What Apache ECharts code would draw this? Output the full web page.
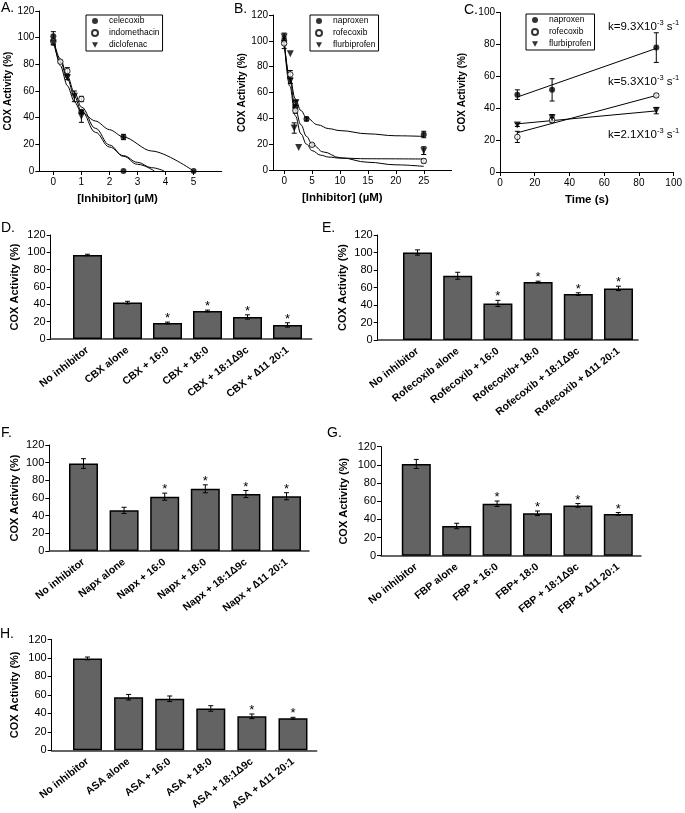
<!DOCTYPE html>
<html><head><meta charset="utf-8">
<script src="https://cdn.jsdelivr.net/npm/echarts@6/dist/echarts.min.js"></script>
<style>html,body{margin:0;padding:0;background:#fff}#c{width:685px;height:813px}</style>
</head><body><div id="c"></div>
<script>
// ---------------- Panel A ----------------
const aCelecoxibX = [0, 1, 2.5, 2.5, 5];
const aCelecoxibY = [101, 44.5, 25.5, 0, 0];
const aCelecoxibE = [3.5, 1, 2, 0, 0];
const aIndoX = [0, 0.25, 0.5, 1];
const aIndoY = [97, 82, 75, 54];
const aIndoE = [2, 1, 2.5, 2];
const aDicloX = [0, 0.5, 0.75, 1];
const aDicloY = [96, 70, 56, 41];
const aDicloE = [1.5, 1.5, 4, 4.5];
const aFit1X = [0, 0.25, 0.5, 0.75, 1, 1.5, 2, 2.5, 3.5, 5];
const aFit1Y = [100, 79, 64, 52, 44, 37.5, 31, 25.5, 15, 0];
const aFit2X = [0, 0.25, 0.5, 0.75, 1, 1.5, 2, 2.5, 3, 3.6];
const aFit2Y = [100, 84, 71, 59, 48, 32, 19.5, 11, 5, 0];
const aFit3X = [0, 0.25, 0.5, 0.75, 1, 1.5, 2, 2.5, 3, 3.5, 3.95];
const aFit3Y = [98, 82, 69, 56, 45, 29, 18, 11.5, 6.5, 2.5, 0];
const aTicks = [0, 1, 2, 3, 4, 5];

// ---------------- Panel B ----------------
const bNapX = [0, 2, 4, 25];
const bNapY = [100, 48.5, 39.5, 27.5];
const bNapE = [3, 2, 1.5, 2.5];
const bRofX = [0, 1.1, 2, 5, 25];
const bRofY = [98, 74, 46, 19.5, 7];
const bRofE = [4, 3, 2, 1, 1.5];
const bFlbX = [0, 1.1, 1.1, 2.1, 1.8, 2.6, 25];
const bFlbY = [103, 90, 69, 52, 32.5, 17.5, 15];
const bFlbE = [3, 0, 2, 2, 4, 0, 3];
const bFit1X = [0, 1, 2, 3, 4, 6, 8, 10, 15, 20, 25];
const bFit1Y = [100, 72, 55, 46, 40.5, 35, 32, 30.5, 28, 26.5, 26];
const bFit2X = [0, 1, 2, 3, 4, 5, 6.5, 8, 10, 15, 25];
const bFit2Y = [100, 65, 42, 28, 20, 15, 11.5, 10, 9.2, 8.7, 8.5];
const bFit3X = [0, 1, 2, 3, 4, 5, 7, 10, 15, 20, 25];
const bFit3Y = [100, 70, 47, 35, 26, 20, 14, 9.5, 6, 4, 2.8];
const bTicks = [0, 5, 10, 15, 20, 25];

// ---------------- Panel C ----------------
const cTime = [10, 30, 90];
const cNapY = [48.5, 51.5, 78];
const cNapE = [3, 7, 9.3];
const cRofY = [22, 32.5, 48];
const cRofE = [3.5, 1.5, 1];
const cFlbY = [29.5, 34, 38.5];
const cFlbE = [1, 2, 2];
const cFitX = [10, 90];
const cFitNapY = [47, 77.5];
const cFitRofY = [24.6, 48];
const cFitFlbY = [30.2, 38.3];
const cRates = ['9.3', '5.3', '2.1'];

// ---------------- Bar panels ----------------
const dCats = ['No inhibitor', 'CBX alone', 'CBX + 16:0', 'CBX + 18:0', 'CBX + 18:1\u03949c', 'CBX + \u220611 20:1'];
const dVals = [97, 42, 18.5, 32.3, 25.4, 16.2];
const dErr = [0.8, 1.5, 1, 1, 2.5, 2.5];
const dStar = [0, 0, 1, 1, 1, 1];

const eCats = ['No inhibitor', 'Rofecoxib alone', 'Rofecoxib + 16:0', 'Rofecoxib+ 18:0', 'Rofecoxib + 18:1\u03949c', 'Rofecoxib + \u220611 20:1'];
const eVals = [100, 73.4, 41.8, 66.2, 52.5, 59];
const eErr = [3, 4, 3.5, 1, 1.5, 2.5];
const eStar = [0, 0, 1, 1, 1, 1];

const fCats = ['No inhibitor', 'Napx alone', 'Napx + 16:0', 'Napx + 18:0', 'Napx + 18:1\u03949c', 'Napx + \u220611 20:1'];
const fVals = [99, 46, 61.5, 70.4, 64.5, 62];
const fErr = [5.5, 3.5, 4, 4.5, 4, 4];
const fStar = [0, 0, 1, 1, 1, 1];

const gCats = ['No inhibitor', 'FBP alone', 'FBP + 16:0', 'FBP+ 18:0', 'FBP + 18:1\u03949c', 'FBP + \u220611 20:1'];
const gVals = [101, 32.7, 57.2, 46.7, 55.4, 46];
const gErr = [5, 3, 3, 2.5, 2, 1.5];
const gStar = [0, 0, 1, 1, 1, 1];

const hCats = ['No inhibitor', 'ASA alone', 'ASA + 16:0', 'ASA + 18:0', 'ASA + 18:1\u03949c', 'ASA + \u220611 20:1'];
const hVals = [99.5, 57.5, 55.8, 45.3, 36.8, 34.7];
const hErr = [1.5, 3, 3, 3, 2.5, 1];
const hStar = [0, 0, 0, 0, 1, 1];

// ---------------- Build ----------------
const SANS = "'Liberation Sans', Arial, Helvetica, sans-serif";
const TRI = 'path://M0,0L10,0L5,9Z';
const OPEN = 'openCircle';

const pts = (xs, ys) => xs.map((x, i) => [x, ys[i]]);
const errPts = (xs, ys, es, st) => xs.map((x, i) => [x, ys[i], es[i], st ? st[i] : 0]);
const idx = (arr) => arr.map((_, i) => i);

function errRender(cap) {
  return function (params, api) {
    const x = api.value(0), y = api.value(1), e = api.value(2), s = api.value(3);
    const top = api.coord([x, y + e]);
    const bot = api.coord([x, y - e]);
    const st = { stroke: '#000', lineWidth: 1 };
    const ch = [];
    if (e > 0) {
      ch.push({ type: 'line', shape: { x1: top[0], y1: top[1], x2: bot[0], y2: bot[1] }, style: st });
      ch.push({ type: 'line', shape: { x1: top[0] - cap, y1: top[1], x2: top[0] + cap, y2: top[1] }, style: st });
      ch.push({ type: 'line', shape: { x1: bot[0] - cap, y1: bot[1], x2: bot[0] + cap, y2: bot[1] }, style: st });
    }
    if (s) {
      ch.push({ type: 'text', style: { text: '*', x: top[0], y: top[1] + 3, align: 'center', verticalAlign: 'bottom', font: '13px ' + SANS, fill: '#000' } });
    }
    return { type: 'group', children: ch };
  };
}

const grid = [
  { left: 39.3, top: 11, width: 182.4, height: 160 },      // A
  { left: 273, top: 15, width: 178.7, height: 155 },       // B
  { left: 500, top: 12.5, width: 176, height: 159.5 },     // C
  { left: 50.7, top: 235, width: 261, height: 104 },       // D
  { left: 377.7, top: 235, width: 260.3, height: 105 },    // E
  { left: 49.3, top: 445, width: 259.7, height: 106 },     // F
  { left: 381, top: 446.7, width: 260, height: 109 },      // G
  { left: 51.7, top: 639.5, width: 265, height: 114.2 }    // H
];

const xAxis = [];
const yAxis = [];
const series = [];

function scatterAxes(gi, xmin, xmax, ticks, xName, namePadR, nameGapY, yMax, yInt) {
  xAxis.push({
    gridIndex: gi, type: 'value', min: xmin, max: xmax,
    axisLine: { show: true, onZero: false, lineStyle: { color: '#000', width: 1 } },
    axisTick: { show: true, customValues: ticks, length: 4, lineStyle: { color: '#000' } },
    axisLabel: { customValues: ticks, fontFamily: SANS, fontSize: 10, color: '#000', margin: 6 },
    splitLine: { show: false },
    name: xName, nameLocation: 'middle', nameGap: 22,
    nameTextStyle: { fontFamily: SANS, fontWeight: 'bold', fontSize: 11.5, color: '#000', padding: [0, namePadR, 0, 0] }
  });
  yAxis.push({
    gridIndex: gi, type: 'value', min: 0, max: yMax, interval: yInt,
    axisLine: { show: true, onZero: false, lineStyle: { color: '#000', width: 1 } },
    axisTick: { show: true, length: 4, lineStyle: { color: '#000' } },
    axisLabel: { fontFamily: SANS, fontSize: 10, color: '#000', margin: 5 },
    splitLine: { show: false },
    name: 'COX Activity (%)', nameLocation: 'middle', nameGap: nameGapY,
    nameTextStyle: { fontFamily: SANS, fontWeight: 'bold', fontSize: 10, color: '#000' }
  });
}

function scatterSeries(gi, name, symbol, xs, ys, es) {
  const open = symbol === OPEN;
  series.push({
    name: name, type: 'scatter', xAxisIndex: gi, yAxisIndex: gi,
    symbol: open ? 'circle' : symbol, symbolSize: symbol === TRI ? 7 : (open ? 5.5 : 6),
    itemStyle: open ? { color: '#fff', borderColor: '#000', borderWidth: 1 } : { color: '#000', borderWidth: 0 },
    data: pts(xs, ys), z: 5, silent: true
  });
  series.push({
    type: 'custom', xAxisIndex: gi, yAxisIndex: gi, renderItem: errRender(2.5),
    encode: { x: 0, y: 1 }, data: errPts(xs, ys, es), z: 4, silent: true, clip: false
  });
}

function fitSeries(gi, xs, ys, smooth) {
  series.push({
    type: 'line', xAxisIndex: gi, yAxisIndex: gi, data: pts(xs, ys),
    showSymbol: false, smooth: smooth, smoothMonotone: 'x',
    lineStyle: { color: '#000', width: 1 }, z: 3, silent: true
  });
}

// A
scatterAxes(0, -0.5, 6, aTicks, '[Inhibitor] (\u00b5M)', 26, 21, 120, 20);
fitSeries(0, aFit1X, aFit1Y, 0.3);
fitSeries(0, aFit2X, aFit2Y, 0.4);
fitSeries(0, aFit3X, aFit3Y, 0.4);
scatterSeries(0, 'celecoxib', 'circle', aCelecoxibX, aCelecoxibY, aCelecoxibE);
scatterSeries(0, 'indomethacin', OPEN, aIndoX, aIndoY, aIndoE);
scatterSeries(0, 'diclofenac', TRI, aDicloX, aDicloY, aDicloE);

// B
scatterAxes(1, -2, 30, bTicks, '[Inhibitor] (\u00b5M)', 40, 19, 120, 20);
fitSeries(1, bFit1X, bFit1Y, 0.4);
fitSeries(1, bFit2X, bFit2Y, 0.4);
fitSeries(1, bFit3X, bFit3Y, 0.4);
scatterSeries(1, 'naproxen', 'circle', bNapX, bNapY, bNapE);
scatterSeries(1, 'rofecoxib', OPEN, bRofX, bRofY, bRofE);
scatterSeries(1, 'flurbiprofen', TRI, bFlbX, bFlbY, bFlbE);

// C
scatterAxes(2, 0, 100, [0, 20, 40, 60, 80, 100], 'Time (s)', 0, 33, 100, 20);
fitSeries(2, cFitX, cFitNapY, false);
fitSeries(2, cFitX, cFitRofY, false);
fitSeries(2, cFitX, cFitFlbY, false);
scatterSeries(2, 'naproxen', 'circle', cTime, cNapY, cNapE);
scatterSeries(2, 'rofecoxib', OPEN, cTime, cRofY, cRofE);
scatterSeries(2, 'flurbiprofen', TRI, cTime, cFlbY, cFlbE);

// Bar panels
function barPanel(gi, cats, vals, errs, stars, xmin, xmax, nameGap) {
  xAxis.push({
    gridIndex: gi, type: 'value', min: xmin, max: xmax,
    axisLine: { show: true, onZero: false, lineStyle: { color: '#333', width: 1.5 } },
    axisTick: { show: false },
    splitLine: { show: false },
    axisLabel: {
      customValues: idx(cats), formatter: (v) => cats[Math.round(v)] || '',
      rotate: 38, fontFamily: SANS, fontWeight: 'bold', fontSize: 10.5, color: '#000', margin: 10
    }
  });
  yAxis.push({
    gridIndex: gi, type: 'value', min: 0, max: 120, interval: 20,
    axisLine: { show: true, onZero: false, lineStyle: { color: '#000', width: 1 } },
    axisTick: { show: true, length: 4, lineStyle: { color: '#000' } },
    axisLabel: { fontFamily: SANS, fontSize: 11, color: '#000', margin: 5 },
    splitLine: { show: false },
    name: 'COX Activity (%)', nameLocation: 'middle', nameGap: nameGap,
    nameTextStyle: { fontFamily: SANS, fontWeight: 'bold', fontSize: 11, color: '#000' }
  });
  const xs = idx(cats);
  series.push({
    type: 'bar', xAxisIndex: gi, yAxisIndex: gi, data: pts(xs, vals), barWidth: 29,
    itemStyle: { color: '#636363', borderColor: '#000', borderWidth: 1.5 }, z: 2, silent: true
  });
  series.push({
    type: 'custom', xAxisIndex: gi, yAxisIndex: gi, renderItem: errRender(2.5),
    encode: { x: 0, y: 1 }, data: errPts(xs, vals, errs, stars), z: 6, silent: true, clip: false
  });
}

barPanel(3, dCats, dVals, dErr, dStar, -0.92, 5.605, 30);
barPanel(4, eCats, eVals, eErr, eStar, -0.99, 5.485, 29);
barPanel(5, fCats, fVals, fErr, fStar, -0.842, 5.554, 29);
barPanel(6, gCats, gVals, gErr, gStar, -0.874, 5.562, 32);
barPanel(7, hCats, hVals, hErr, hStar, -0.871, 5.577, 31);

function legendAt(left, top, names) {
  return {
    left: left, top: top, orient: 'vertical', data: names, selectedMode: false,
    itemWidth: 6, itemHeight: 6, itemGap: 2, padding: [1, 3, 1, 5],
    borderColor: '#000', borderWidth: 1, backgroundColor: '#fff',
    textStyle: { fontFamily: SANS, fontSize: 8.5, color: '#000', padding: [0, 0, 0, 6], lineHeight: 10 }
  };
}

const letter = (t, l, tp) => ({ type: 'text', left: l, top: tp, style: { text: t, font: '14px ' + SANS, fill: '#000' } });
const kText = (r, tp) => ({
  type: 'text', left: 608, top: tp,
  style: {
    text: '{a|k=' + r + 'X10}{s|-3}{a| s}{s|-1}',
    rich: {
      a: { fontFamily: SANS, fontSize: 11.5, fill: '#000', lineHeight: 14, verticalAlign: 'bottom' },
      s: { fontFamily: SANS, fontSize: 7.5, fill: '#000', lineHeight: 14, verticalAlign: 'top' }
    }
  }
});

const chart = echarts.init(document.getElementById('c'), null, { renderer: 'canvas' });
chart.setOption({
  animation: false,
  backgroundColor: '#fff',
  grid: grid,
  xAxis: xAxis,
  yAxis: yAxis,
  legend: [
    legendAt(86, 15, ['celecoxib', 'indomethacin', 'diclofenac']),
    legendAt(310, 15, ['naproxen', 'rofecoxib', 'flurbiprofen']),
    legendAt(526, 14, ['naproxen', 'rofecoxib', 'flurbiprofen'])
  ],
  graphic: [
    letter('A.', 1, 1), letter('B.', 234, 2), letter('C.', 464, 3),
    letter('D.', 1, 221), letter('E.', 322, 221),
    letter('F.', 1, 426), letter('G.', 327, 426), letter('H.', 0, 627),
    kText(cRates[0], 19), kText(cRates[1], 74), kText(cRates[2], 127)
  ],
  series: series
});
</script>
</body></html>
